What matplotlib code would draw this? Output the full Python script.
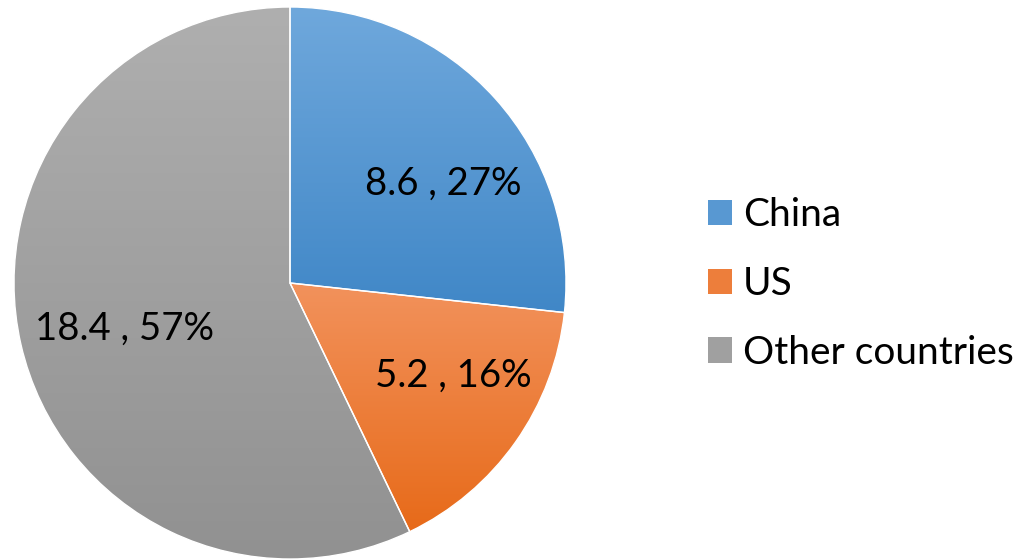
import numpy as np
import matplotlib

matplotlib.use("Agg")
import matplotlib.pyplot as plt  # noqa: E402
from matplotlib.colors import LinearSegmentedColormap, to_rgb  # noqa: E402
from matplotlib.patches import Patch  # noqa: E402

plt.rcParams["font.family"] = ["Lato", "DejaVu Sans"]

# pie data (values in the units shown on the labels)
countries = ["China", "US", "Other countries"]
values = [8.6, 5.2, 18.4]

# (light top, dark bottom) gradient for each slice
GRADIENTS = [
    ("#6fa8dc", "#4087c7"),
    ("#f2925c", "#e76a19"),
    ("#afafaf", "#919191"),
]
# small per-label nudges so the text sits a little off the slice bisector
LABEL_R = [0.66, 0.68, 0.62]
LABEL_DA = [-9.0, 5.5, 2.5]

W, H = 1020, 559
fig = plt.figure(figsize=(W / 100, H / 100), dpi=100)
cx, cy, r = 290, 283, 276
ax = fig.add_axes([(cx - r) / W, (H - cy - r) / H, 2 * r / W, 2 * r / H])

wedges, _ = ax.pie(values, startangle=90, counterclock=False, radius=1.0,
                   wedgeprops=dict(edgecolor="white", linewidth=1.0))

grad = np.linspace(0, 1, 256).reshape(-1, 1)
for w, (top, bot) in zip(wedges, GRADIENTS):
    verts = w.get_patch_transform().transform(w.get_path().vertices)
    x0, y0 = verts.min(axis=0)
    x1, y1 = verts.max(axis=0)
    cmap = LinearSegmentedColormap.from_list("g", [to_rgb(top), to_rgb(bot)])
    im = ax.imshow(grad, cmap=cmap, extent=[x0, x1, y0, y1], origin="upper",
                   aspect="auto", zorder=w.get_zorder() - 0.1)
    im.set_clip_path(w)
    w.set_facecolor("none")

total = sum(values)
for w, v, lr, da in zip(wedges, values, LABEL_R, LABEL_DA):
    mid = np.deg2rad((w.theta1 + w.theta2) / 2 + da)
    ax.text(lr * np.cos(mid), lr * np.sin(mid), f"{v} , {v / total:.0%}",
            ha="center", va="center", fontsize=27.5, color="black")

ax.set_xlim(-1, 1)
ax.set_ylim(-1, 1)
ax.set_aspect("equal")
ax.axis("off")


def mid_color(top, bot):
    return tuple((np.array(to_rgb(top)) + np.array(to_rgb(bot))) / 2)


handles = [Patch(facecolor=mid_color(t, b), edgecolor="none") for t, b in GRADIENTS]
fig.legend(handles, countries, loc="center left",
           bbox_to_anchor=(708 / W, 1 - 284 / H), frameon=False,
           fontsize=28, handlelength=0.62, handleheight=0.62,
           handletextpad=0.28, labelspacing=0.84, borderpad=0,
           borderaxespad=0)

fig.savefig("out.png", dpi=100)
